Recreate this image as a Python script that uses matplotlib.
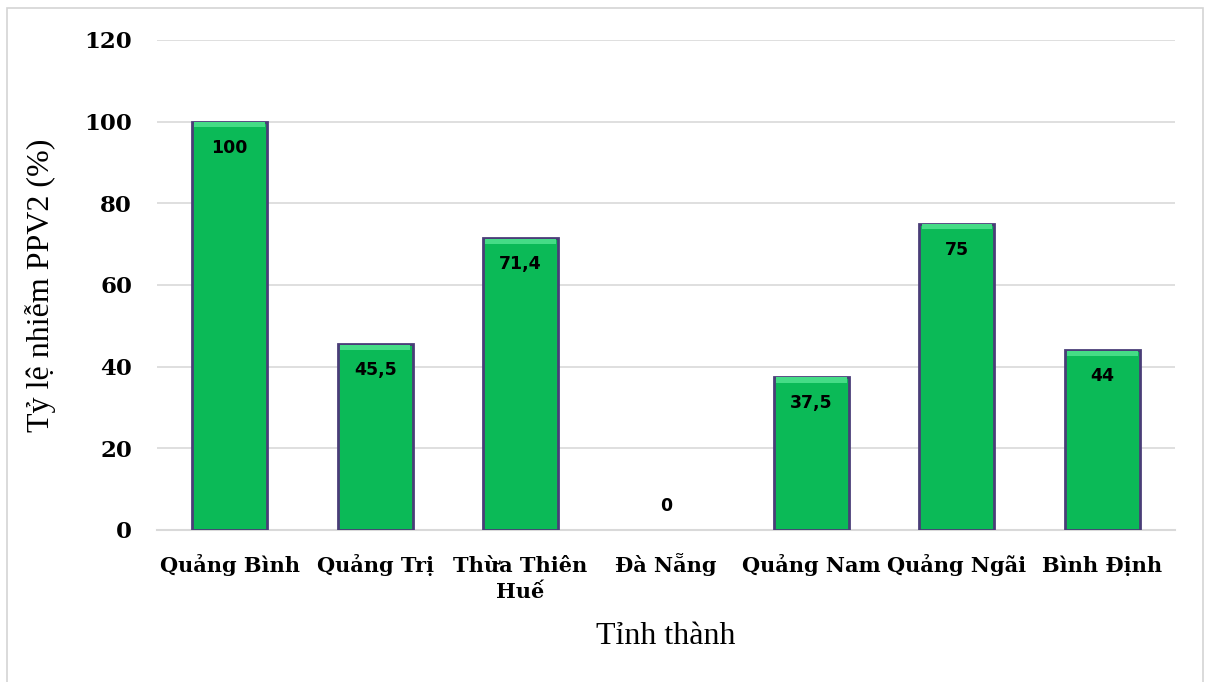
import matplotlib.pyplot as plt
from matplotlib.patches import Rectangle
from matplotlib.transforms import ScaledTranslation

# infection rate by province
provinces = ["Quảng Bình", "Quảng Trị", "Thừa Thiên\nHuế", "Đà Nẵng",
             "Quảng Nam", "Quảng Ngãi", "Bình Định"]
rates = [100, 45.5, 71.4, 0, 37.5, 75, 44]
rate_labels = ["100", "45,5", "71,4", "0", "37,5", "75", "44"]
yticks = [0, 20, 40, 60, 80, 100, 120]


def main():
    fig = plt.figure(figsize=(12.05, 6.82), dpi=100)
    ax = fig.add_axes([0.1303, 0.2229, 0.8448, 0.7185])

    # light frame around the whole chart
    fig.patches.append(Rectangle((7 / 1205, -0.01), 1196 / 1205, 1.01 - 8 / 682,
                                 transform=fig.transFigure, fill=False,
                                 edgecolor="#d4d4d4", linewidth=1.2))

    x = list(range(len(provinces)))
    width = 0.515
    widths = [2 if v > 0 else 0 for v in rates]
    ax.bar(x, rates, width=width, color="#0bba57",
           edgecolor="#4a3d78", linewidth=widths, zorder=3)

    # lighter bevel along the top of each bar
    for xi, v in zip(x, rates):
        if v <= 0:
            continue
        ax.bar(xi, 1.3, bottom=v - 1.4, width=width - 0.03, color="#45dc86",
               linewidth=0, zorder=4)

    for xi, v, lab in zip(x, rates, rate_labels):
        off = 24 if v == 0 else -26
        ax.annotate(lab, (xi, v), xytext=(0, off * 0.72), textcoords="offset points",
                    ha="center", va="center", fontsize=12.5, fontweight="bold",
                    family="DejaVu Sans", color="black", zorder=5)

    ax.set_xlim(-0.5, len(provinces) - 0.5)
    ax.set_ylim(0, 120)
    ax.set_yticks(yticks)
    ax.set_yticklabels([str(t) for t in yticks])
    ax.set_xticks(x)
    ax.set_xticklabels(provinces, linespacing=1.35)
    ax.tick_params(axis="y", length=0, pad=18)
    ax.tick_params(axis="x", length=0, pad=30)

    # align all category names on the baseline of their first line
    for t in ax.get_xticklabels():
        t.set_family("DejaVu Serif")
        t.set_fontweight("bold")
        t.set_fontsize(15)
        t.set_verticalalignment("baseline")
        extra = t.get_text().count("\n")
        if extra:
            t.set_transform(t.get_transform() +
                            ScaledTranslation(0, -0.26 * extra, fig.dpi_scale_trans))
    for t in ax.get_yticklabels():
        t.set_family("DejaVu Serif")
        t.set_fontweight("bold")
        t.set_fontsize(16.5)

    ax.grid(axis="y", color="#d9d9d9", linewidth=1.2, zorder=0)
    ax.set_axisbelow(True)
    for s in ["top", "right", "left"]:
        ax.spines[s].set_visible(False)
    ax.spines["bottom"].set_color("#d9d9d9")
    ax.spines["bottom"].set_linewidth(1.5)

    ax.set_ylabel("Tỷ lệ nhiễm PPV2 (%)", family="Liberation Serif", fontsize=23)
    ax.yaxis.set_label_coords(-0.099, 0.5)
    ax.set_xlabel("Tỉnh thành", family="Liberation Serif", fontsize=23)
    ax.xaxis.set_label_coords(0.5, -0.188)

    fig.savefig("out.png", dpi=100)


if __name__ == "__main__":
    main()
